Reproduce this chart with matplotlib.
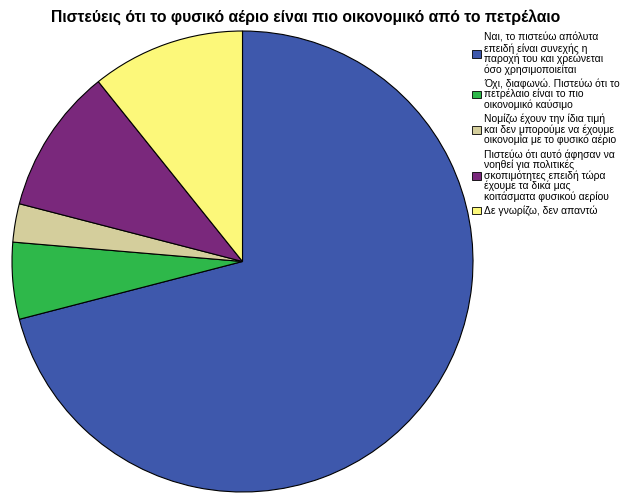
import matplotlib.pyplot as plt
from matplotlib.patches import Patch

plt.rcParams['font.family'] = ['Liberation Sans', 'DejaVu Sans']

title = 'Πιστεύεις ότι το φυσικό αέριο είναι πιο οικονομικό από το πετρέλαιο'
labels = [
    'Ναι, το πιστεύω απόλυτα\nεπειδή είναι συνεχής η\nπαροχή του και χρεώνεται\nόσο χρησιμοποιείται',
    'Όχι, διαφωνώ. Πιστεύω ότι το\nπετρέλαιο είναι το πιο\nοικονομικό καύσιμο',
    'Νομίζω έχουν την ίδια τιμή\nκαι δεν μπορούμε να έχουμε\nοικονομία με το φυσικό αέριο',
    'Πιστεύω ότι αυτό άφησαν να\nνοηθεί για πολιτικές\nσκοπιμότητες επειδή τώρα\nέχουμε τα δικά μας\nκοιτάσματα φυσικού αερίου',
    'Δε γνωρίζω, δεν απαντώ',
]
counts = [132, 10, 5, 19, 20]
colors = ['#3e58ac', '#2eb84a', '#d4ce9c', '#7a287c', '#fcf87a']

fig = plt.figure(figsize=(6.29, 4.93), dpi=100)
ax = fig.add_axes([12 / 629, 1 / 493, 461 / 629, 461 / 493])
ax.pie(counts, colors=colors, startangle=90, counterclock=False,
       wedgeprops=dict(edgecolor='black', linewidth=0.8))
ax.set_xlim(-1.0, 1.0)
ax.set_ylim(-1.0, 1.0)
ax.set_aspect('equal')

fig.text(306 / 629, 1 - 17 / 493, title, ha='center', va='center',
         fontsize=11.3, fontweight='bold')

handles = [Patch(facecolor=c, edgecolor='black', linewidth=0.6) for c in colors]
leg = fig.legend(handles, labels, loc='upper left', bbox_to_anchor=(472 / 629, 1 - 33 / 493),
                 frameon=False, fontsize=7.5, handlelength=0.9, handleheight=0.75,
                 handletextpad=0.3, labelspacing=0.35, borderpad=0, borderaxespad=0)
for t in leg.get_texts():
    t.set_linespacing(1.01)

fig.savefig('out.png', dpi=100)
